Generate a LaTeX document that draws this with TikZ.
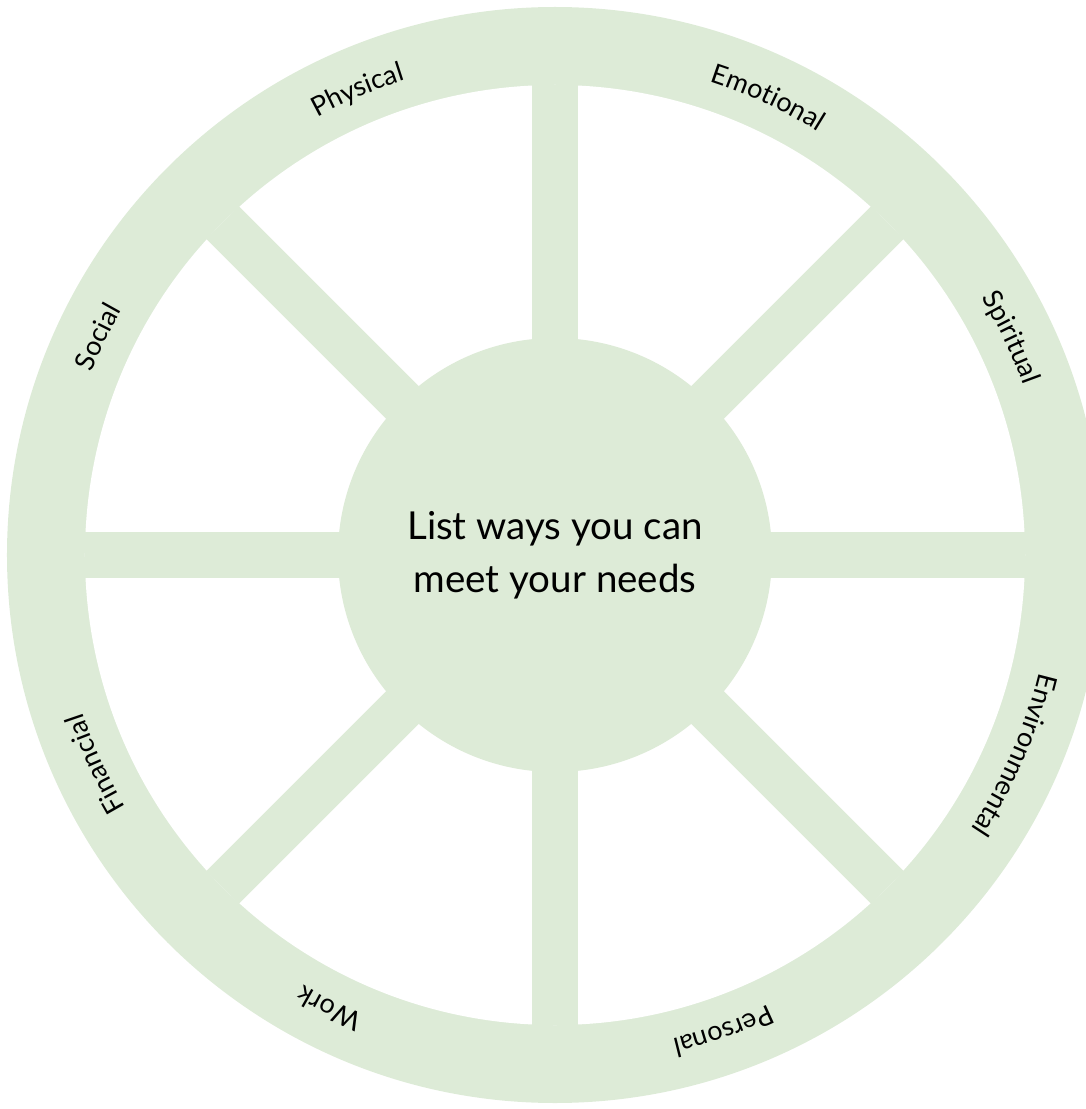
\documentclass[tikz,border=0pt]{standalone}
\usepackage{fontspec}
\newfontfamily\wheelfont{Lato}
\usetikzlibrary{decorations.text}
\definecolor{wheelgreen}{HTML}{DDEBD7}

\begin{document}
\begin{tikzpicture}[x=1pt,y=1pt]
        \useasboundingbox (-555,-554) rectangle (530,555);
        \fill[wheelgreen] (0,0) circle[radius=548];
        \fill[white] (0,0) circle[radius=470];
        \foreach \a in {0,45,90,135}
            \draw[wheelgreen, line width=46pt] (\a:470) -- (\a+180:470);
        \node[circle, fill=wheelgreen, minimum size=434pt, inner sep=0pt, align=center,
              font=\wheelfont\fontsize{38.5}{53}\selectfont] (hub) at (0,0) {List ways you can\\meet your needs};
        % names round the rim
        \foreach \a/\txt in {113/Physical, 65/Emotional, 25.5/Spiritual, -23.5/Environmental,
                             -70.5/Personal, -116.5/Work, -155.5/Financial, 154.5/Social}
            \path[decorate, decoration={text along path, text align=center,
                  text={|\wheelfont\fontsize{27}{32}\selectfont|\txt}}]
                (\a+25:498) arc[start angle=\a+25, end angle=\a-25, radius=498];
    \end{tikzpicture}
\end{document}
